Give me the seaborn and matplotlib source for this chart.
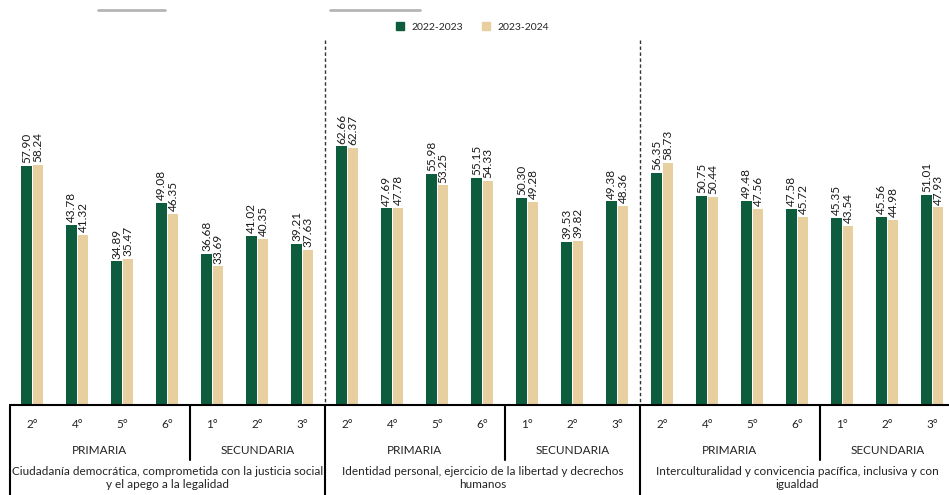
import matplotlib
matplotlib.use("Agg")
import matplotlib.pyplot as plt
from matplotlib.lines import Line2D
import seaborn as sns
import pandas as pd

# DATA
grades = ["2°", "4°", "5°", "6°", "1°", "2°", "3°"]
levels = ["PRIMARIA", "PRIMARIA", "PRIMARIA", "PRIMARIA", "SECUNDARIA", "SECUNDARIA", "SECUNDARIA"]
groups = [
    "Ciudadanía democrática, comprometida con la justicia social\ny el apego a la legalidad",
    "Identidad personal, ejercicio de la libertad y decrechos\nhumanos",
    "Interculturalidad y convicencia pacífica, inclusiva y con\nigualdad",
]
years = ["2022-2023", "2023-2024"]

values_2022 = [57.90, 43.78, 34.89, 49.08, 36.68, 41.02, 39.21,
               62.66, 47.69, 55.98, 55.15, 50.30, 39.53, 49.38,
               56.35, 50.75, 49.48, 47.58, 45.35, 45.56, 51.01]
values_2023 = [58.24, 41.32, 35.47, 46.35, 33.69, 40.35, 37.63,
               62.37, 47.78, 53.25, 54.33, 49.28, 39.82, 48.36,
               58.73, 50.44, 47.56, 45.72, 43.54, 44.98, 47.93]

colors = ["#0d5c3e", "#e8cfa0"]

# BUILD TABLE
keys = [f"{g}_{i}" for g in range(len(groups)) for i in range(len(grades))]
df = pd.DataFrame({
    "key": keys * 2,
    "year": [years[0]] * len(keys) + [years[1]] * len(keys),
    "value": values_2022 + values_2023,
})

# FIGURE
sns.set_style("white")
plt.rcParams["font.family"] = ["Lato", "DejaVu Sans"]

fig = plt.figure(figsize=(9.49, 4.95), dpi=100)
ax = fig.add_axes([0, 1 - 406 / 495, 1, 406 / 495])

sns.barplot(
    data=df, x="key", y="value", hue="year", order=keys, hue_order=years,
    palette=colors, width=0.5, gap=0.06, linewidth=0, saturation=1,
    ax=ax, legend=False
)

for cont in ax.containers:
    ax.bar_label(cont, fmt="%.2f", rotation=90, padding=2, fontsize=8.5, color="#1a1a1a")

x_left, x_right = -0.72, 20.37
ax.set_xlim(x_left, x_right)
ax.set_ylim(0, 98)
ax.set_xticks([])
ax.set_yticks([])
ax.set_xlabel("")
ax.set_ylabel("")
for s in ax.spines.values():
    s.set_visible(False)


def fy(p):
    # pixel row (from top) -> axes fraction
    return (406 - p) / 406


tr = ax.get_xaxis_transform()

# TABLE LINES
ax.plot([-0.5, x_right], [fy(405), fy(405)], transform=tr, color="black", lw=1.5, clip_on=False)
ax.plot([-0.5, -0.5], [fy(405), fy(495)], transform=tr, color="black", lw=1.5, clip_on=False)
for gi in range(1, len(groups)):
    xs = gi * 7 - 0.5
    ax.plot([xs, xs], [fy(40), fy(405)], transform=tr, color="#333333", lw=1, ls=(0, (2.5, 1.8)), clip_on=False)
    ax.plot([xs, xs], [fy(405), fy(495)], transform=tr, color="black", lw=1.5, clip_on=False)
for gi in range(len(groups)):
    xs = gi * 7 + 3.5
    ax.plot([xs, xs], [fy(405), fy(460)], transform=tr, color="black", lw=1.5, clip_on=False)

# TABLE TEXT
for gi, gname in enumerate(groups):
    for i, gr in enumerate(grades):
        ax.text(gi * 7 + i, fy(425), gr, transform=tr, ha="center", va="center", fontsize=8.5, color="#222222")
    ax.text(gi * 7 + 1.5, fy(450), levels[0], transform=tr, ha="center", va="center", fontsize=8.5, color="#222222")
    ax.text(gi * 7 + 5, fy(450), levels[4], transform=tr, ha="center", va="center", fontsize=8.5, color="#222222")
    ax.text(gi * 7 + 3, fy(466), gname, transform=tr, ha="center", va="top", fontsize=8.5,
            color="#222222", linespacing=1.25)

# LEGEND
handles = [Line2D([], [], marker="s", ls="", color=c, markersize=6) for c in colors]
ax.legend(handles, years, loc="center", bbox_to_anchor=(0.495, fy(27)), ncol=2, frameon=False,
          fontsize=7.5, handletextpad=0.1, columnspacing=1.2)

# header remnants
fig.add_artist(Line2D([98 / 949, 165 / 949], [1 - 10 / 495, 1 - 10 / 495], color="#b5b5b5", lw=2))
fig.add_artist(Line2D([330 / 949, 420 / 949], [1 - 10 / 495, 1 - 10 / 495], color="#b5b5b5", lw=2))

fig.savefig("out.png", dpi=100)
